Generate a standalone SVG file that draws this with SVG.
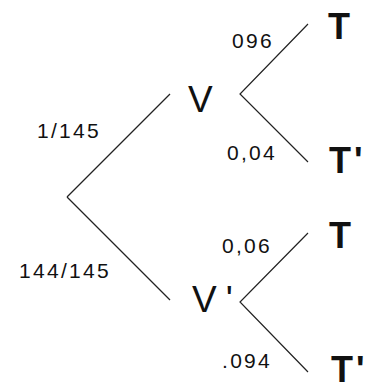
<svg xmlns="http://www.w3.org/2000/svg" width="365" height="387" viewBox="0 0 365 387">
<style>
.e{stroke:#222;stroke-width:1.2;fill:none}
.p{font-family:"Liberation Sans",Arial,sans-serif;font-size:21px;letter-spacing:2.3px;fill:#111}
.v{font-family:"Liberation Sans",Arial,sans-serif;font-size:37px;fill:#111}
.t{font-family:"Liberation Sans",Arial,sans-serif;font-size:36px;font-weight:bold;fill:#111}
</style>
<rect width="365" height="387" fill="#fff"/>
<g id="connectors">
<line class="e" x1="67" y1="197" x2="170" y2="94"/>
<line class="e" x1="67" y1="197" x2="170" y2="300"/>
<polyline class="e" points="308,24 240,94 308,162"/>
<polyline class="e" points="308,233 240,302 308,372"/>
</g>
<g id="labels">
<text class="p" x="37" y="138">1/145</text>
<text class="p" x="19" y="278">144/145</text>
<text class="p" x="232" y="48">096</text>
<text class="p" x="227" y="160">0,04</text>
<text class="p" x="222" y="253">0,06</text>
<text class="p" x="222" y="368">.094</text>
</g>
<g id="node-V"><text class="v" x="188" y="112">V</text></g>
<g id="node-V2"><text class="v" x="192" y="312">V<tspan dx="9">'</tspan></text></g>
<g id="node-T1"><text class="t" x="328" y="39">T</text></g>
<g id="node-T1p"><text class="t" x="329" y="173">T<tspan dx="3">'</tspan></text></g>
<g id="node-T2"><text class="t" x="329" y="248">T</text></g>
<g id="node-T2p"><text class="t" x="331" y="382">T<tspan dx="3">'</tspan></text></g>
</svg>
